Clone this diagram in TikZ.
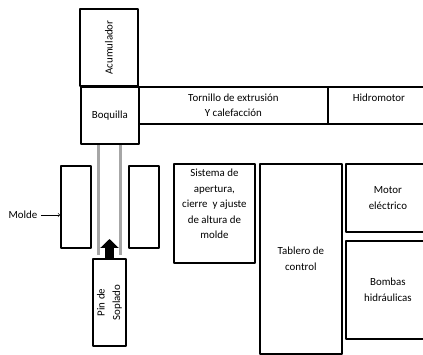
\documentclass[tikz,border=0pt]{standalone}
\usepackage{fontspec}
\setmainfont{Carlito}
\usetikzlibrary{arrows.meta}
\begin{document}
\begin{tikzpicture}[x=1pt,y=-1pt,>=to,line join=round,font=\fontsize{10.9}{15.5}\selectfont,
	caja/.style={draw,line width=1.8pt,inner sep=0pt,align=center},
	tubo/.style={draw=black!35,line width=3pt}]
		\clip (0,0) rectangle (423,355);
		\node[caja,rotate=90,minimum width=77,minimum height=58] (acum) at (109,47.5) {Acumulador};
		\node[caja,anchor=north west,minimum width=58,minimum height=57] (boq) at (80,86) {Boquilla};
		\node[caja,anchor=north west,minimum width=189,minimum height=37] (torn) at (138,86) {Tornillo de extrusión\\Y calefacción};
		\node[caja,anchor=north west,minimum width=102,minimum height=37] (hidro) at (327,86) {Hidromotor\\\phantom{Y}};
		\node[caja,anchor=north west,minimum width=30,minimum height=82] (izq) at (60,165) {};
		\node[caja,anchor=north west,minimum width=30,minimum height=82] (der) at (128,165) {};
		\node[caja,rotate=90,minimum width=87,minimum height=33] (pin) at (109.5,302.5) {Pin de\\Soplado};
		\node[caja,anchor=north west,minimum width=81,minimum height=99] (sist) at (173,163) {};
		\node[anchor=north,align=center,inner sep=0pt] (sisttxt) at ([yshift=-6pt]sist.north) {Sistema de\\apertura,\\cierre \ y ajuste\\de altura de\\molde};
		\node[caja,anchor=north west,minimum width=82,minimum height=190] (tabl) at (259,163) {Tablero de\\control};
		\node[caja,anchor=north west,minimum width=84,minimum height=68] (motor) at (345,163) {Motor\\eléctrico};
		\node[caja,anchor=north west,minimum width=84,minimum height=98] (bomb) at (345,240) {Bombas\\hidráulicas};
		\node (molde) at (23,215) {Molde};
		\draw[line width=0.6pt,->] (molde.east) -- (molde.east -| izq.west);
		\coordinate (t1) at (98,255);
		\coordinate (t2) at (120,255);
		\draw[tubo] (t1 |- boq.south) -- (t1);
		\draw[tubo] (t2 |- boq.south) -- (t2);
		\coordinate (soplo) at (109.5,239);
		\draw[line width=9pt,-{Triangle[width=18pt,length=9pt]}] (pin.east) -- (soplo);
\end{tikzpicture}
\end{document}
